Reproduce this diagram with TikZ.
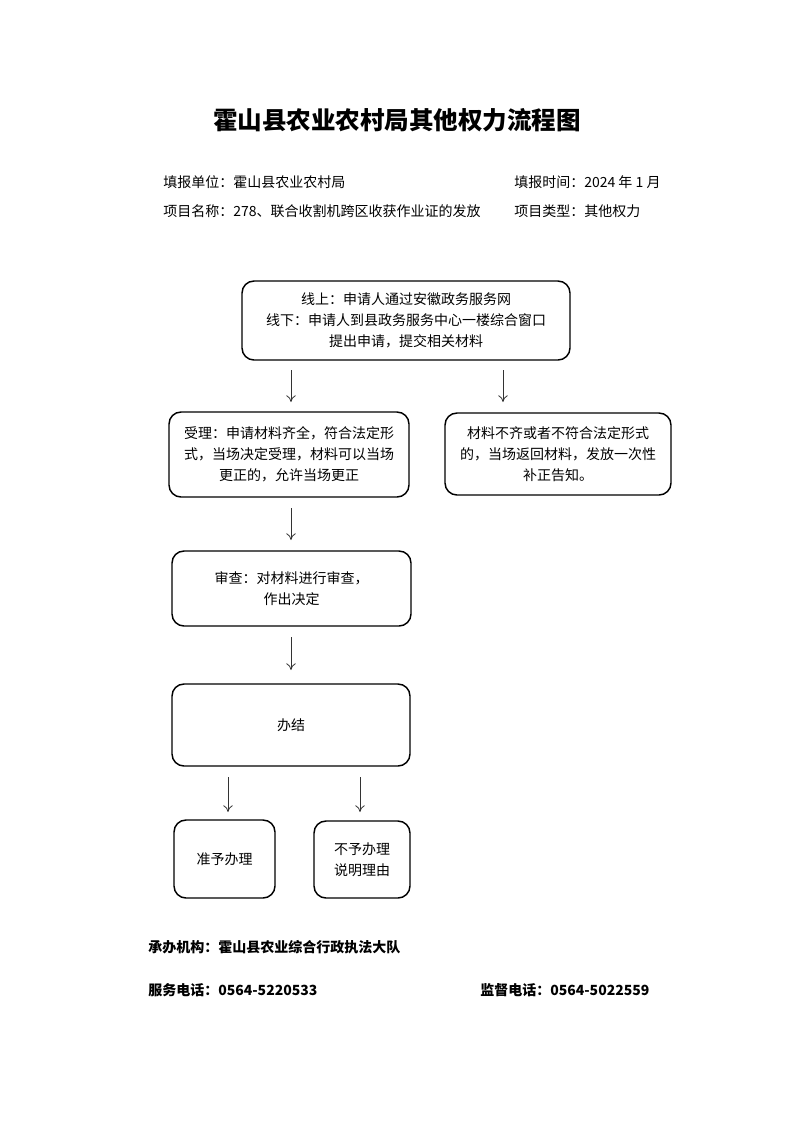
\documentclass[tikz,border=0pt]{standalone}
\usepackage{fontspec}
\newfontfamily\cjk{Noto Sans CJK SC}
\usetikzlibrary{arrows.meta}

\begin{document}
\begin{tikzpicture}[x=0.75pt,y=-0.75pt,
    box/.style={draw,line width=1.1pt,rounded corners=9pt,align=center,inner sep=2pt,
        font=\cjk\fontsize{10.5}{15.75}\selectfont},
    arr/.style={-{To[length=5pt,width=7pt]},line width=0.6pt,black!80},
    info/.style={anchor=west,inner sep=0pt,font=\cjk\fontsize{10.5}{12}\selectfont},
    foot/.style={anchor=west,inner sep=0pt,font=\cjk\bfseries\fontsize{10.5}{12}\selectfont}]

    \useasboundingbox (0,0) rectangle (793,1122);

    \node[font=\cjk\bfseries\fontsize{18.4}{22}\selectfont] (title) at (397,120) {霍山县农业农村局其他权力流程图};

    \node[info] (unit) at (163,182) {填报单位：霍山县农业农村局};
    \node[info] (time) at (514,182) {填报时间：2024 年 1 月};
    \node[info] (item) at (163,211) {项目名称：278、联合收割机跨区收获作业证的发放};
    \node[info] (kind) at (514,211) {项目类型：其他权力};

    \node[box,minimum width=246pt,minimum height=59.25pt] (apply) at (406,320.5)
        {线上：申请人通过安徽政务服务网\\线下：申请人到县政务服务中心一楼综合窗口\\提出申请，提交相关材料};
    \node[box,minimum width=180pt,minimum height=63.75pt] (accept) at (289,454.5)
        {受理：申请材料齐全，符合法定形\\式，当场决定受理，材料可以当场\\更正的，允许当场更正};
    \node[box,minimum width=169.5pt,minimum height=61.5pt] (reject) at (558,454)
        {材料不齐或者不符合法定形式\\的，当场返回材料，发放一次性\\补正告知。};
    \node[box,minimum width=179.25pt,minimum height=56.25pt] (review) at (291.5,588.5)
        {审查：对材料进行审查，\\作出决定};
    \node[box,minimum width=178.5pt,minimum height=61.5pt] (finish) at (291,725) {办结};
    \node[box,minimum width=75.75pt,minimum height=58.5pt] (grant) at (224.5,859) {准予办理};
    \node[box,minimum width=72pt,minimum height=57.75pt] (deny) at (362,859.5) {不予办理\\说明理由};

    \coordinate (a1) at (291,370);
    \coordinate (b1) at (291,402);
    \coordinate (a2) at (503,370);
    \coordinate (b2) at (503,402);
    \coordinate (a3) at (291,508);
    \coordinate (b3) at (291,540);
    \coordinate (a4) at (291,637);
    \coordinate (b4) at (291,670);
    \coordinate (a5) at (228,777);
    \coordinate (b5) at (228,812);
    \coordinate (a6) at (360,777);
    \coordinate (b6) at (360,812);
    \draw[arr] (a1) -- (b1);
    \draw[arr] (a2) -- (b2);
    \draw[arr] (a3) -- (b3);
    \draw[arr] (a4) -- (b4);
    \draw[arr] (a5) -- (b5);
    \draw[arr] (a6) -- (b6);

    \node[foot] (office) at (148,947) {承办机构：霍山县农业综合行政执法大队};
    \node[foot] (phone) at (148,990) {服务电话：0564-5220533};
    \node[foot] (super) at (480,990) {监督电话：0564-5022559};
        \end{tikzpicture}
\end{document}
